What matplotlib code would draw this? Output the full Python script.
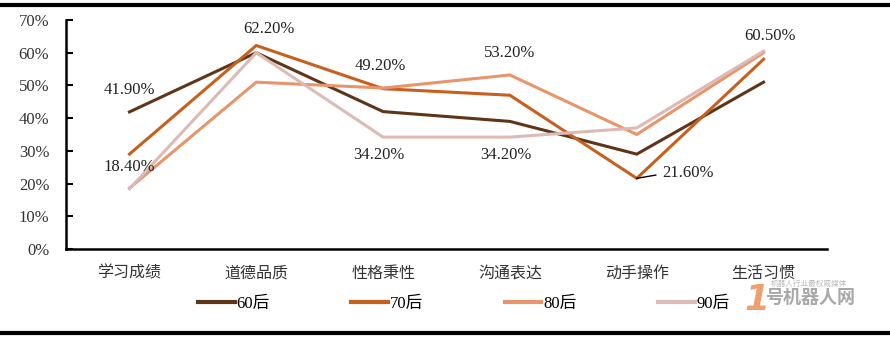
import numpy as np
import matplotlib.pyplot as plt
from matplotlib.lines import Line2D

categories = ['学习成绩', '道德品质', '性格秉性', '沟通表达', '动手操作', '生活习惯']
series_names = ['60后', '70后', '80后', '90后']
v60 = [41.9, 60.0, 42.0, 39.0, 29.0, 51.0]
v70 = [29.0, 62.2, 49.0, 47.0, 21.6, 58.0]
v80 = [18.6, 51.0, 49.2, 53.2, 35.0, 60.0]
v90 = [18.4, 60.0, 34.2, 34.2, 37.0, 60.5]
colors = ['#5E3519', '#C8601D', '#E8956B', '#DCBAB6']

# data labels: (series index, category index, text)
annotations = [
    (0, 0, '41.90%'), (3, 0, '18.40%'), (1, 1, '62.20%'), (2, 2, '49.20%'),
    (3, 2, '34.20%'), (2, 3, '53.20%'), (3, 3, '34.20%'), (1, 4, '21.60%'),
    (3, 5, '60.50%'),
]

font = ['Liberation Serif', 'Noto Sans CJK SC']
plt.rcParams['font.family'] = font

fig = plt.figure(figsize=(8.9, 3.39), dpi=100)
ax = fig.add_axes([0.0742, 0.2655, 0.855, 0.6755])

x = np.arange(len(categories))
all_vals = [v60, v70, v80, v90]
for vals, c, name in zip(all_vals, colors, series_names):
    ax.plot(x, vals, color=c, linewidth=2.2, label=name, solid_joinstyle='miter')

ax.set_xlim(-0.5, len(categories) - 0.5)
ax.set_ylim(0, 70)
ax.set_yticks(np.arange(0, 71, 10))
ax.set_yticklabels([f'{t}%' for t in range(0, 71, 10)], fontsize=12, color='#333333')
ax.set_xticks(x)
ax.set_xticklabels(categories, fontsize=11.5, color='#333333')
ax.tick_params(axis='y', direction='in', length=5, width=1.5, pad=12)
ax.tick_params(axis='x', length=0, pad=12)
for side in ['top', 'right']:
    ax.spines[side].set_visible(False)
for side in ['left', 'bottom']:
    ax.spines[side].set_linewidth(1.8)
    ax.spines[side].set_color('black')

# data labels
offsets = {
    (0, 0): (0.0, 6.7), (3, 0): (0.0, 6.7), (1, 1): (0.1, 5.1),
    (2, 2): (-0.02, 6.8), (3, 2): (-0.03, -5.5), (2, 3): (0.0, 6.7),
    (3, 3): (-0.03, -5.5), (1, 4): (0.2, 1.6), (3, 5): (0.05, 4.6),
}
for si, ci, txt in annotations:
    dx, dy = offsets[(si, ci)]
    ax.text(ci + dx, all_vals[si][ci] + dy, txt, fontsize=12, color='#222222',
            ha='center' if (si, ci) != (1, 4) else 'left', va='center')
# leader line for 21.60%
ax.plot([4.0, 4.15], [v70[4], v70[4] + 1.0], color='black', linewidth=1)

handles = [Line2D([0], [0], color=c, linewidth=3) for c in colors]
fig.legend(handles, series_names, loc='center', bbox_to_anchor=(0.521, 0.103), ncol=4,
           frameon=False, fontsize=12, handlelength=2.2, handletextpad=0.1,
           columnspacing=4.9)

# image frame lines top and bottom
fig.add_artist(Line2D([0, 1], [0.985, 0.985], color='black', linewidth=3, transform=fig.transFigure))
fig.add_artist(Line2D([0, 1], [0.017, 0.017], color='black', linewidth=3, transform=fig.transFigure))

# watermark
fig.text(0.851, 0.115, '1', fontsize=26, color='#F0A070', fontweight='bold', ha='center', va='center',
         family=['DejaVu Sans'], style='italic')
fig.text(0.866, 0.162, '机器人行业最权威媒体', fontsize=5.5, color='#BBBBBB', ha='left', va='center')
fig.text(0.86, 0.12, '号机器人网', fontsize=13, color='#A8A8A8', fontweight='bold', ha='left', va='center')

fig.savefig('out.png', dpi=100)
